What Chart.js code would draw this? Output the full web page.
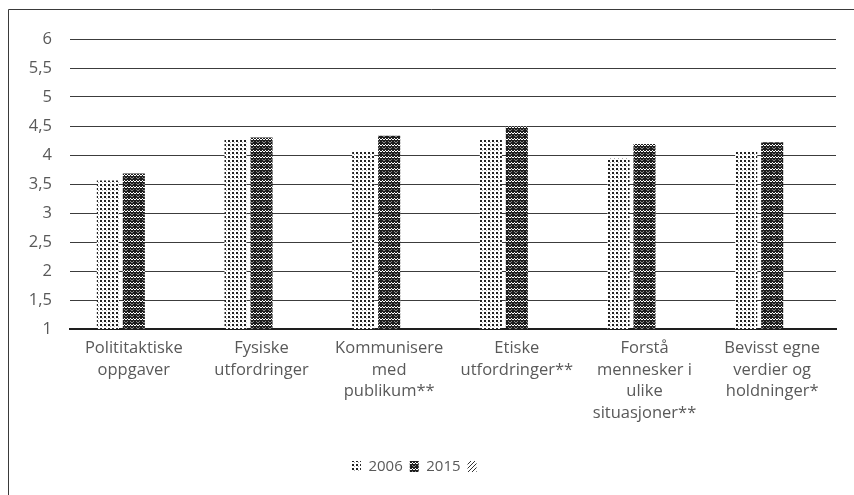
<!DOCTYPE html>
<html>
<head>
<meta charset="utf-8">
<script src="https://cdn.jsdelivr.net/npm/chart.js@4"></script>
<style>
  html, body { margin: 0; padding: 0; background: #fff; }
  #wrap { width: 854px; height: 495px; }
</style>
</head>
<body>
<div id="wrap"><canvas id="grafico" width="854" height="495"></canvas></div>
<script>
// Data
const kategorier = [
    ['Polititaktiske', 'oppgaver'],
    ['Fysiske', 'utfordringer'],
    ['Kommunisere', 'med', 'publikum**'],
    ['Etiske', 'utfordringer**'],
    ['Forstå', 'mennesker i', 'ulike', 'situasjoner**'],
    ['Bevisst egne', 'verdier og', 'holdninger*']
];
const verdier2006 = [3.56, 4.27, 4.05, 4.26, 3.95, 4.05];
const verdier2015 = [3.68, 4.30, 4.33, 4.49, 4.19, 4.22];
const tomSerie = [null, null, null, null, null, null];
const serieNavn = ['2006', '2015', ''];

const FONT = '"Open Sans", "Noto Sans", sans-serif';
const TEKST = '#595959';

// Mønstre
function lagMonster(str, tegn) {
    const c = document.createElement('canvas');
    c.width = str; c.height = str;
    const g = c.getContext('2d');
    tegn(g);
    return g.createPattern(c, 'repeat');
}

const prikker = lagMonster(4, g => {
    g.fillStyle = '#fff'; g.fillRect(0, 0, 4, 4);
    g.fillStyle = '#222'; g.fillRect(0, 0, 2, 2);
    g.fillStyle = '#aaa'; g.fillRect(2, 2, 1, 1);
});

const kryss = lagMonster(6, g => {
    g.fillStyle = '#1e1e1e'; g.fillRect(0, 0, 6, 6);
    g.fillStyle = '#fff';
    g.fillRect(1, 0, 1, 1); g.fillRect(4, 0, 1, 1);
    g.fillRect(0, 1, 1, 1); g.fillRect(2, 1, 1, 1); g.fillRect(3, 1, 1, 1); g.fillRect(5, 1, 1, 1);
    g.fillStyle = '#888';
    g.fillRect(1, 3, 1, 1); g.fillRect(4, 3, 1, 1);
    g.fillRect(0, 4, 1, 1); g.fillRect(5, 4, 1, 1);
});

const skravur = lagMonster(4, g => {
    g.fillStyle = '#fff'; g.fillRect(0, 0, 4, 4);
    g.fillStyle = '#333';
    g.fillRect(3, 0, 1, 1); g.fillRect(2, 1, 1, 1); g.fillRect(1, 2, 1, 1); g.fillRect(0, 3, 1, 1);
});

// Ramme rundt diagrammet
const ramme = {
    id: 'ramme',
    beforeDraw(chart) {
        const ctx = chart.ctx;
        ctx.save();
        ctx.strokeStyle = '#3a3a3a';
        ctx.lineWidth = 1;
        ctx.beginPath();
        ctx.moveTo(8.5, 495);
        ctx.lineTo(8.5, 9.5);
        ctx.lineTo(854, 9.5);
        ctx.stroke();
        ctx.restore();
    }
};

new Chart(document.getElementById('grafico').getContext('2d'), {
    type: 'bar',
    data: {
        labels: kategorier,
        datasets: [
            { label: serieNavn[0], data: verdier2006, backgroundColor: prikker, borderWidth: 0 },
            { label: serieNavn[1], data: verdier2015, backgroundColor: kryss, borderWidth: 0 },
            { label: serieNavn[2], data: tomSerie, backgroundColor: skravur, borderWidth: 0 }
        ]
    },
    options: {
        responsive: false,
        animation: false,
        datasets: {
            bar: { categoryPercentage: 0.61, barPercentage: 0.85 }
        },
        layout: { padding: { top: 39, right: 18, bottom: 11, left: 0 } },
        scales: {
            y: {
                min: 1,
                max: 6,
                ticks: {
                    stepSize: 0.5,
                    color: TEKST,
                    font: { family: FONT, size: 16.5 },
                    padding: 18,
                    callback: v => String(v).replace('.', ',')
                },
                grid: { color: '#3c3c3c', lineWidth: 1, drawTicks: false },
                border: { display: false },
                afterFit: s => { s.width = 70; }
            },
            x: {
                ticks: {
                    color: TEKST,
                    font: { family: FONT, size: 16.5, lineHeight: 1.3 },
                    padding: 1,
                    maxRotation: 0,
                    autoSkip: false
                },
                grid: { display: false },
                border: { display: true, color: '#1e1e1e', width: 2 },
                afterFit: s => { s.height = 123; }
            }
        },
        plugins: {
            legend: {
                position: 'bottom',
                labels: {
                    boxWidth: 9,
                    boxHeight: 11,
                    padding: 7,
                    color: TEKST,
                    font: { family: FONT, size: 15 }
                }
            },
            tooltip: { enabled: false }
        }
    },
    plugins: [ramme]
});
</script>
</body>
</html>
